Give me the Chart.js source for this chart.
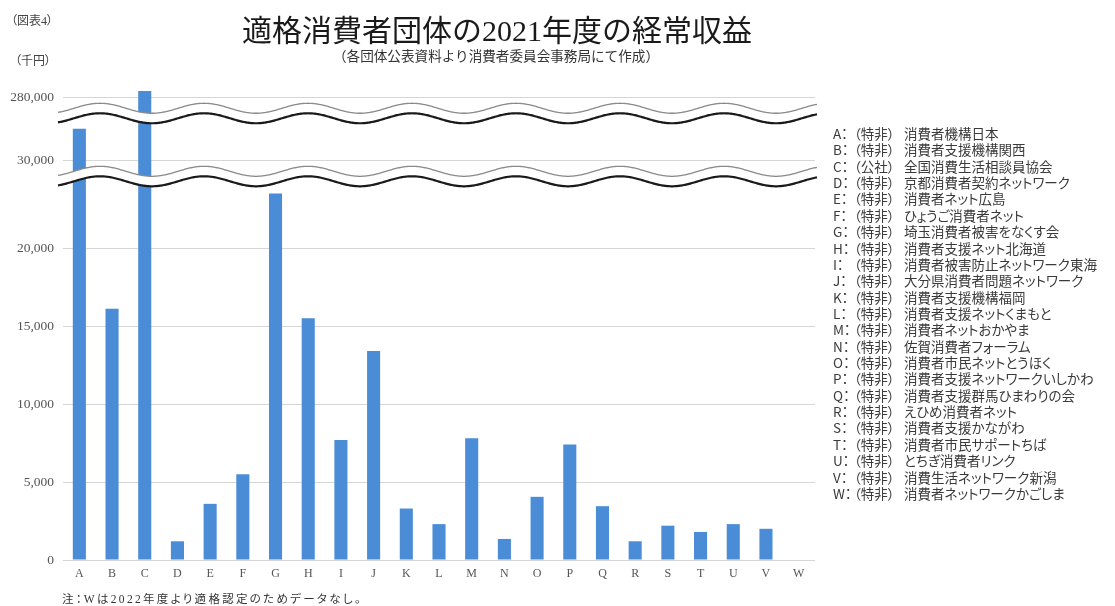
<!DOCTYPE html>
<html lang="ja">
<head>
<meta charset="utf-8">
<script src="https://cdn.jsdelivr.net/npm/chart.js@4.4.1/dist/chart.umd.min.js"></script>
<style>
  html, body { margin: 0; padding: 0; background: #fff; }
  #wrap { position: relative; width: 1115px; height: 606px; overflow: hidden; background: #fff; }
  #c { position: absolute; left: 0; top: 0; }
  .txt { position: absolute; white-space: nowrap; font-family: "Liberation Serif", "Noto Sans CJK JP", serif; color: #333; }
  #title { left: 0; width: 994px; text-align: center; top: 16px; font-size: 30px; line-height: 1; color: #1a1a1a; }
  #subtitle { left: 0; width: 992px; text-align: center; top: 50px; font-size: 13.6px; line-height: 1; color: #333; }
  #fig { left: 11px; top: 15px; font-size: 12px; line-height: 1; color: #444; font-feature-settings: "palt"; }
  #unit { left: 15px; top: 55px; font-size: 12px; line-height: 1; color: #444; font-feature-settings: "palt"; }
  #legend { left: 833px; top: 125px; font-family: "Noto Sans CJK JP", sans-serif; font-size: 13.5px; line-height: 16.36px; color: #3a3a3a; font-feature-settings: "palt"; }
  #legend .k { display: inline-block; width: 21px; }
  #legend .t { display: inline-block; width: 50px; }
  #note { left: 62px; top: 594px; font-size: 11.5px; line-height: 1; color: #333; letter-spacing: 2.3px; font-feature-settings: "palt"; }
</style>
</head>
<body>
<div id="wrap">
  <canvas id="c" width="1115" height="606"></canvas>
  <div class="txt" id="fig">（図表4）</div>
  <div class="txt" id="unit">（千円）</div>
  <div class="txt" id="title">適格消費者団体の2021年度の経常収益</div>
  <div class="txt" id="subtitle">（各団体公表資料より消費者委員会事務局にて作成）</div>
  <div class="txt" id="legend"></div>
  <div class="txt" id="note">注：Wは2022年度より適格認定のためデータなし。</div>
</div>
<script>
// ---- data ----
const categories = ["A","B","C","D","E","F","G","H","I","J","K","L","M","N","O","P","Q","R","S","T","U","V","W"];
const revenue = [32000, 16100, 280400, 1200, 3600, 5500, 23500, 15500, 7700, 13400, 3300, 2300, 7800, 1350, 4050, 7400, 3450, 1200, 2200, 1800, 2300, 2000, null];
const yTicks = [0, 5000, 10000, 15000, 20000, 30000, 280000];
const orgTypes = ["特非","特非","公社","特非","特非","特非","特非","特非","特非","特非","特非","特非","特非","特非","特非","特非","特非","特非","特非","特非","特非","特非","特非"];
const orgNames = ["消費者機構日本","消費者支援機構関西","全国消費生活相談員協会","京都消費者契約ネットワーク","消費者ネット広島","ひょうご消費者ネット","埼玉消費者被害をなくす会","消費者支援ネット北海道","消費者被害防止ネットワーク東海","大分県消費者問題ネットワーク","消費者支援機構福岡","消費者支援ネットくまもと","消費者ネットおかやま","佐賀消費者フォーラム","消費者市民ネットとうほく","消費者支援ネットワークいしかわ","消費者支援群馬ひまわりの会","えひめ消費者ネット","消費者支援かながわ","消費者市民サポートちば","とちぎ消費者リンク","消費生活ネットワーク新潟","消費者ネットワークかごしま"];

// axis breaks (value ranges squeezed out of the axis)
const axisBreaks = [{from: 24600, to: 28960}, {from: 33000, to: 278980}];

// legend
const leg = document.getElementById('legend');
leg.innerHTML = categories.map((c, i) =>
  '<div><span class="k">' + c + '：</span><span class="t">（' + orgTypes[i] + '）</span><span class="n">' + orgNames[i] + '</span></div>'
).join('');

// broken linear scale
class BrokenLinearScale extends Chart.LinearScale {
  toVirtual(v) {
    let off = 0;
    for (const b of axisBreaks) {
      if (v >= b.to) off += b.to - b.from;
      else if (v > b.from) return b.from - off;
    }
    return v - off;
  }
  fromVirtual(u) {
    let off = 0;
    for (const b of axisBreaks) {
      if (u + off > b.from) off += b.to - b.from; else break;
    }
    return u + off;
  }
  getPixelForValue(v) {
    if (v === null || v === undefined || isNaN(v)) return NaN;
    const a = this.toVirtual(this.min), z = this.toVirtual(this.max);
    return this.getPixelForDecimal((this.toVirtual(v) - a) / (z - a));
  }
  getValueForPixel(p) {
    const a = this.toVirtual(this.min), z = this.toVirtual(this.max);
    return this.fromVirtual(a + this.getDecimalForPixel(p) * (z - a));
  }
}
BrokenLinearScale.id = 'brokenLinear';
BrokenLinearScale.defaults = Chart.LinearScale.defaults;
Chart.register(BrokenLinearScale);

// wavy break marks
const breakMarks = {
  id: 'breakMarks',
  afterDatasetsDraw(chart) {
    const y = chart.scales.y, ctx = chart.ctx;
    const x0 = 58, x1 = 817, amp = 5, wl = 104, ph = 100, gap = 5;
    for (const b of axisBreaks) {
      const yc = y.getPixelForValue(b.from);
      const wave = (x, d) => yc + d - amp * Math.cos(2 * Math.PI * (x - ph) / wl);
      ctx.save();
      ctx.beginPath();
      for (let x = x0; x <= x1; x++) { const yy = wave(x, -gap); x === x0 ? ctx.moveTo(x, yy) : ctx.lineTo(x, yy); }
      for (let x = x1; x >= x0; x--) ctx.lineTo(x, wave(x, gap));
      ctx.closePath();
      ctx.fillStyle = '#ffffff';
      ctx.fill();
      ctx.beginPath();
      for (let x = x0; x <= x1; x++) { const yy = wave(x, -gap); x === x0 ? ctx.moveTo(x, yy) : ctx.lineTo(x, yy); }
      ctx.strokeStyle = '#8a8a8a'; ctx.lineWidth = 1.3; ctx.stroke();
      ctx.beginPath();
      for (let x = x0; x <= x1; x++) { const yy = wave(x, gap); x === x0 ? ctx.moveTo(x, yy) : ctx.lineTo(x, yy); }
      ctx.strokeStyle = '#1a1a1a'; ctx.lineWidth = 2.2; ctx.stroke();
      ctx.restore();
    }
  }
};

new Chart(document.getElementById('c'), {
  type: 'bar',
  data: {
    labels: categories,
    datasets: [{
      data: revenue,
      backgroundColor: '#4a8dd6',
      borderWidth: 0,
      categoryPercentage: 1,
      barPercentage: 0.4
    }]
  },
  options: {
    responsive: false,
    animation: false,
    layout: { padding: { top: 88, right: 300, bottom: 16, left: 0 } },
    plugins: { legend: { display: false }, title: { display: false }, tooltip: { enabled: false } },
    scales: {
      x: {
        grid: { display: false, drawTicks: false },
        border: { display: false },
        ticks: { padding: 7, color: '#555', font: { family: 'Liberation Serif', size: 12 }, maxRotation: 0 },
        afterFit: (axis) => { axis.height = 30; }
      },
      y: {
        type: 'brokenLinear',
        min: 0,
        max: 280600,
        grid: { color: '#d6d6d6', lineWidth: 1, drawTicks: false },
        border: { display: false },
        afterBuildTicks: (axis) => { axis.ticks = yTicks.map(v => ({ value: v })); },
        ticks: {
          autoSkip: false,
          padding: 9,
          color: '#555',
          font: { family: 'Liberation Serif', size: 13.5 },
          callback: (v) => Number(v).toLocaleString('en-US')
        },
        afterFit: (axis) => { axis.width = 63; }
      }
    }
  },
  plugins: [breakMarks]
});
</script>
</body>
</html>
